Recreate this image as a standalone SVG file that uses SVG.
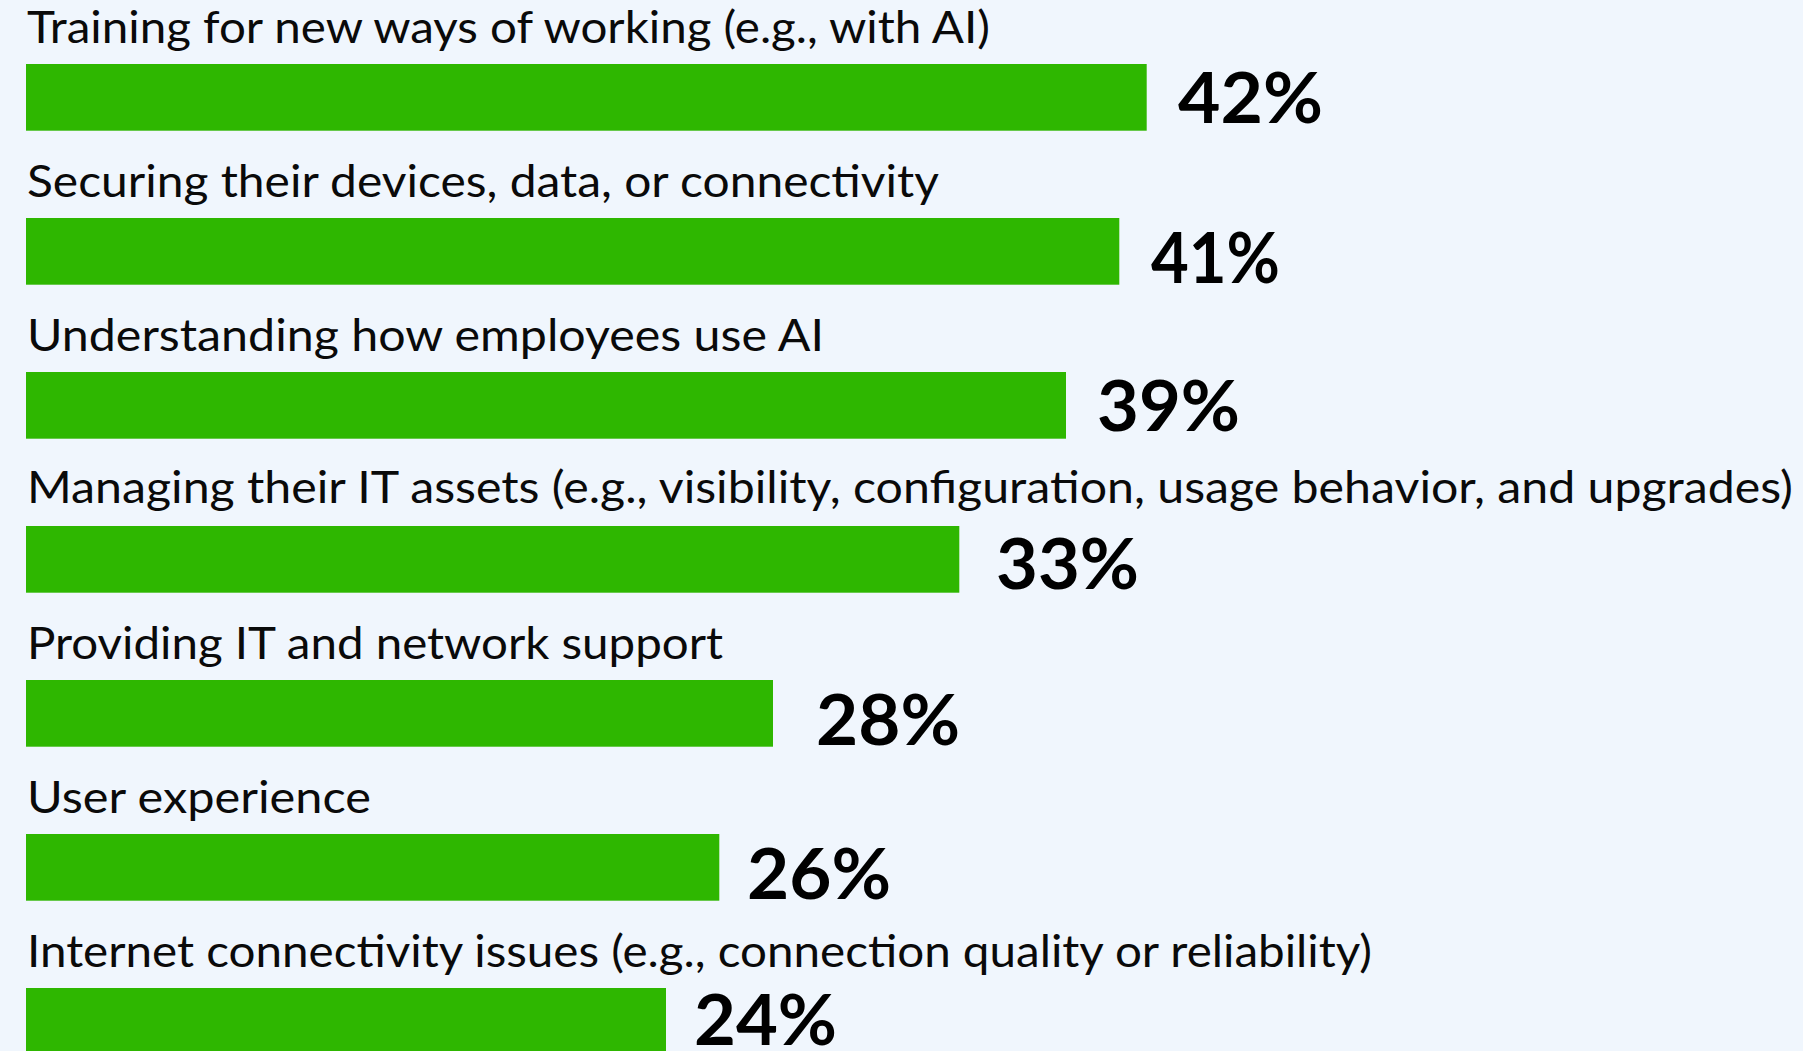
<svg xmlns="http://www.w3.org/2000/svg" width="1803" height="1051" viewBox="0 0 1803 1051">
<style>
.bg{fill:#F0F6FD}
.bar{fill:#2EB700}
.lbl{font-family:Lato,"Open Sans","Liberation Sans",sans-serif;font-size:44px;fill:#0A0A0A}
.pct{font-family:Lato,"Liberation Sans",sans-serif;font-size:71px;font-weight:700;fill:#000}
</style>
<rect class="bg" x="0" y="0" width="1803" height="1051"/>
<g id="row1">
<text class="lbl" x="27" y="42.7" textLength="963" lengthAdjust="spacingAndGlyphs">Training for new ways of working (e.g., with AI)</text>
<rect class="bar" x="26" y="64" width="1120.7" height="66.7"/>
<text class="pct" x="1178" y="122.7" textLength="145" lengthAdjust="spacingAndGlyphs">42%</text>
</g>
<g id="row2">
<text class="lbl" x="27" y="196.7" textLength="912" lengthAdjust="spacingAndGlyphs">Securing their devices, data, or connectivity</text>
<rect class="bar" x="26" y="218" width="1093.3" height="66.7"/>
<text class="pct" x="1151" y="283.3" textLength="129" lengthAdjust="spacingAndGlyphs">41%</text>
</g>
<g id="row3">
<text class="lbl" x="27" y="350.7" textLength="797" lengthAdjust="spacingAndGlyphs">Understanding how employees use AI</text>
<rect class="bar" x="26" y="372" width="1040" height="66.7"/>
<text class="pct" x="1097" y="430.7" textLength="143" lengthAdjust="spacingAndGlyphs">39%</text>
</g>
<g id="row4">
<text class="lbl" x="27" y="503.3" textLength="1766" lengthAdjust="spacingAndGlyphs">Managing their IT assets (e.g., visibility, configuration, usage behavior, and upgrades)</text>
<rect class="bar" x="26" y="526" width="933.3" height="66.7"/>
<text class="pct" x="996" y="589" textLength="143" lengthAdjust="spacingAndGlyphs">33%</text>
</g>
<g id="row5">
<text class="lbl" x="27" y="658.7" textLength="696" lengthAdjust="spacingAndGlyphs">Providing IT and network support</text>
<rect class="bar" x="26" y="680" width="747" height="66.7"/>
<text class="pct" x="816" y="745" textLength="144" lengthAdjust="spacingAndGlyphs">28%</text>
</g>
<g id="row6">
<text class="lbl" x="27" y="812.7" textLength="344" lengthAdjust="spacingAndGlyphs">User experience</text>
<rect class="bar" x="26" y="834" width="693.3" height="66.7"/>
<text class="pct" x="747" y="899.3" textLength="144" lengthAdjust="spacingAndGlyphs">26%</text>
</g>
<g id="row7">
<text class="lbl" x="27" y="966.7" textLength="1345" lengthAdjust="spacingAndGlyphs">Internet connectivity issues (e.g., connection quality or reliability)</text>
<rect class="bar" x="26" y="988" width="640" height="66.7"/>
<text class="pct" x="694" y="1045" textLength="143" lengthAdjust="spacingAndGlyphs">24%</text>
</g>
<g id="connectors"/>
</svg>
